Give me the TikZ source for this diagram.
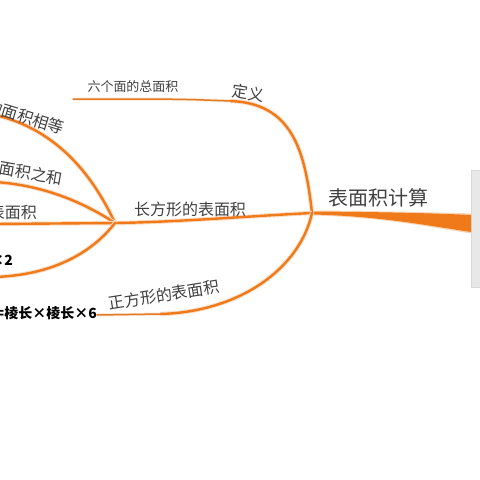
\documentclass[tikz,border=0pt]{standalone}
\usepackage{fontspec}
\newfontfamily\cjk{Noto Sans CJK SC}
\definecolor{maporange}{HTML}{F07A1A}
\definecolor{mapbrown}{HTML}{A8845A}

\begin{document}
\begin{tikzpicture}[
  x=1pt, y=-1pt,
  every node/.style = {font=\cjk, inner sep=1pt, text=black!75},
  limb/.style = {draw=maporange, line width=2.4pt, line cap=round, preaction={draw=maporange!25, line width=4.4pt}},
  twig/.style = {draw=maporange!80!mapbrown, line width=1.5pt, line cap=round, preaction={draw=maporange!20, line width=3pt}},
  topic/.style = {font=\cjk\fontsize{20}{20}\selectfont},
  subtopic/.style = {font=\cjk\fontsize{16}{16}\selectfont},
  leaf/.style = {font=\cjk\fontsize{13}{13}\selectfont},
  formula/.style = {font=\cjk\bfseries\fontsize{14}{14}\selectfont, text=black}
]
  \useasboundingbox (0,0) rectangle (480,480);
  \clip (0,0) rectangle (480,480);

  \coordinate (root) at (312,213);
  \coordinate (cuboid) at (115,223);
  \coordinate (boxedge) at (471,223);
  \coordinate (defend) at (73,99);
  \coordinate (defbend) at (230,101);
  \coordinate (cubeend) at (97,315);
  \coordinate (equalend) at (-5,115);
  \coordinate (sumend) at (-5,182);
  \coordinate (areaend) at (-5,224);
  \coordinate (twiceend) at (-5,277);

  \draw[fill=gray!18, draw=gray!30] (471,170) rectangle (484,287);

  \fill[maporange!30] (312,210.5) .. controls (380,211) and (430,212) .. (471,213.5)
    -- (471,233.5) .. controls (430,227) and (380,217) .. (312,215.5) -- cycle;
  \fill[maporange] (312,211.5) .. controls (380,212) and (430,213) .. (471,215)
    -- (471,232) .. controls (430,226) and (380,216) .. (312,214.5) -- cycle;

  \draw[limb] (root) .. controls (305,150) and (292,103) .. (defbend);
  \draw[twig] (defbend) .. controls (180,99) .. (defend);
  \draw[limb] (root) .. controls (250,216) and (180,222) .. (cuboid);
  \draw[limb] (root) .. controls (300,268) and (240,312) .. (160,314);
  \draw[twig] (160,314) -- (cubeend);

  \draw[limb] (cuboid) .. controls (95,180) and (60,130) .. (equalend);
  \draw[limb] (cuboid) .. controls (80,200) and (40,185) .. (sumend);
  \draw[limb] (cuboid) -- (areaend);
  \draw[limb] (cuboid) .. controls (90,255) and (50,275) .. (twiceend);

  \node[topic] (title) at (378,198) {表面积计算};
  \node[subtopic] (cuboidlabel) at (190,209) {长方形的表面积};
  \node[subtopic, rotate=-8] (deflabel) at (248,93) {定义};
  \node[leaf] (deftext) at (133,87) {六个面的总面积};
  \node[subtopic, rotate=9] (cubelabel) at (164,295) {正方形的表面积};
  \node[formula, anchor=east] (cubeformula) at (98,313) {积=棱长×棱长×6};

  \node[subtopic, anchor=east, rotate=-17] (equallabel) at (65,129) {的面积相等};
  \node[subtopic, anchor=east, rotate=-10] (sumlabel) at (64,179) {的面积之和};
  \node[subtopic, anchor=east] (arealabel) at (38,212) {表面积};
  \node[formula, anchor=east] (twicelabel) at (14,261) {)×2};
\end{tikzpicture}
\end{document}
